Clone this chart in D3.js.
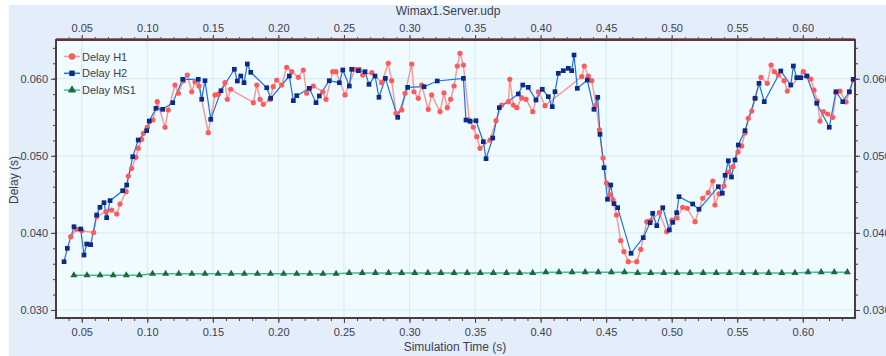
<!DOCTYPE html>
<html>
<head>
<meta charset="utf-8">
<script src="https://cdn.jsdelivr.net/npm/d3@7"></script>
<style>
  body { margin: 0; background: #fff; }
  svg { display: block; font-family: "Liberation Sans", Arial, sans-serif; }
</style>
</head>
<body>
<svg id="chart" width="886" height="356"></svg>
<script>
// series: [time (s), delay (s)]
var delayH1 = [
  [0.0416,0.03951],[0.0461,0.04047],[0.0500,0.04029],[0.0591,0.04005],[0.0614,0.04213],[0.0685,0.04275],
  [0.0728,0.04297],[0.0767,0.04245],[0.0792,0.04375],[0.0838,0.04534],[0.0855,0.04738],[0.0881,0.04838],
  [0.0914,0.04981],[0.0931,0.05097],[0.0957,0.05214],[0.0970,0.05292],[0.1000,0.05370],[0.1043,0.05464],
  [0.1076,0.05702],[0.1135,0.05370],[0.1160,0.05594],[0.1211,0.05918],[0.1237,0.05811],[0.1275,0.05974],
  [0.1305,0.06048],[0.1339,0.05831],[0.1364,0.05961],[0.1394,0.05905],[0.1465,0.05300],[0.1516,0.05789],
  [0.1542,0.05798],[0.1593,0.05948],[0.1610,0.05733],[0.1636,0.05863],[0.1809,0.05689],[0.1835,0.05918],
  [0.1860,0.05733],[0.1885,0.05668],[0.1936,0.05733],[0.1961,0.05896],[0.1987,0.05983],[0.2025,0.05918],
  [0.2063,0.06148],[0.2102,0.06091],[0.2152,0.06018],[0.2190,0.06113],[0.2216,0.05811],[0.2266,0.05905],
  [0.2338,0.05831],[0.2363,0.05733],[0.2414,0.06091],[0.2439,0.06091],[0.2508,0.05789],[0.2584,0.06122],
  [0.2617,0.06122],[0.2643,0.06048],[0.2712,0.06078],[0.2788,0.05948],[0.2838,0.06200],[0.2864,0.05974],
  [0.2897,0.05551],[0.2941,0.05594],[0.2966,0.05811],[0.3017,0.06191],[0.3034,0.05831],[0.3067,0.05746],
  [0.3093,0.05918],[0.3143,0.05603],[0.3169,0.05789],[0.3233,0.05572],[0.3263,0.05818],[0.3288,0.05624],
  [0.3314,0.05733],[0.3340,0.05905],[0.3365,0.06165],[0.3385,0.06329],[0.3411,0.06178],[0.3456,0.05464],
  [0.3487,0.05370],[0.3513,0.05248],[0.3538,0.05097],[0.3614,0.05205],[0.3660,0.05455],[0.3703,0.05659],
  [0.3754,0.05702],[0.3765,0.05992],[0.3792,0.05659],[0.3818,0.05624],[0.3856,0.05750],[0.3889,0.05733],
  [0.3940,0.05572],[0.3983,0.05831],[0.4034,0.05650],[0.4314,0.06026],[0.4333,0.06165],[0.4364,0.06035],
  [0.4390,0.05974],[0.4423,0.05659],[0.4449,0.05335],[0.4476,0.04971],[0.4503,0.04647],[0.4530,0.04492],
  [0.4552,0.04427],[0.4579,0.04232],[0.4611,0.03899],[0.4636,0.03756],[0.4669,0.03626],[0.4733,0.03626],
  [0.4764,0.03787],[0.4810,0.04145],[0.4840,0.04158],[0.4906,0.04262],[0.4962,0.04016],[0.5002,0.04167],
  [0.5041,0.04193],[0.5084,0.04332],[0.5119,0.04319],[0.5178,0.04145],[0.5237,0.04449],[0.5279,0.04521],
  [0.5313,0.04673],[0.5330,0.04362],[0.5361,0.04505],[0.5399,0.04608],[0.5433,0.04790],[0.5467,0.04859],
  [0.5506,0.05049],[0.5534,0.05127],[0.5559,0.05296],[0.5584,0.05486],[0.5611,0.05581],[0.5636,0.05746],
  [0.5681,0.06018],[0.5729,0.05940],[0.5758,0.06178],[0.5783,0.06091],[0.5813,0.06048],[0.5857,0.05974],
  [0.5882,0.05840],[0.6004,0.06091],[0.6035,0.06035],[0.6061,0.05996],[0.6086,0.05853],[0.6111,0.05711],
  [0.6131,0.05451],[0.6157,0.05572],[0.6190,0.05542],[0.6228,0.05499],[0.6253,0.05818],[0.6284,0.05840],
  [0.6330,0.05698],[0.6355,0.05827],[0.6385,0.05983]
];

var delayH2 = [
  [0.0365,0.03626],[0.0390,0.03800],[0.0441,0.04080],[0.0492,0.04051],[0.0517,0.03713],[0.0538,0.03856],
  [0.0568,0.03847],[0.0614,0.04232],[0.0639,0.04332],[0.0670,0.04392],[0.0690,0.04197],[0.0716,0.04418],
  [0.0812,0.04547],[0.0843,0.04621],[0.0889,0.04988],[0.0931,0.05205],[0.0995,0.05326],[0.1015,0.05451],
  [0.1066,0.05616],[0.1117,0.05603],[0.1194,0.05689],[0.1270,0.05992],[0.1389,0.05992],[0.1415,0.05733],
  [0.1440,0.05974],[0.1484,0.05473],[0.1562,0.05844],[0.1664,0.06122],[0.1687,0.05970],[0.1713,0.06035],
  [0.1738,0.05948],[0.1763,0.06191],[0.1789,0.06083],[0.1911,0.05883],[0.1941,0.05746],[0.2083,0.06035],
  [0.2114,0.05715],[0.2140,0.05780],[0.2236,0.05875],[0.2287,0.05689],[0.2312,0.05776],[0.2388,0.05974],
  [0.2465,0.05948],[0.2491,0.06113],[0.2541,0.05905],[0.2559,0.06122],[0.2610,0.06104],[0.2661,0.06091],
  [0.2691,0.05927],[0.2737,0.06035],[0.2767,0.05759],[0.2816,0.06005],[0.2910,0.05499],[0.2986,0.05888],
  [0.3111,0.05896],[0.3212,0.05970],[0.3411,0.06005],[0.3431,0.05464],[0.3462,0.05447],[0.3507,0.05455],
  [0.3563,0.05183],[0.3584,0.04962],[0.3635,0.05231],[0.3685,0.05624],[0.3830,0.05802],[0.3864,0.05918],
  [0.3906,0.05888],[0.3965,0.05724],[0.4013,0.05863],[0.4059,0.05767],[0.4089,0.05637],[0.4110,0.05831],
  [0.4135,0.06070],[0.4173,0.06104],[0.4211,0.06135],[0.4237,0.06104],[0.4255,0.06307],[0.4280,0.05875],
  [0.4356,0.05983],[0.4407,0.05603],[0.4436,0.05759],[0.4453,0.05279],[0.4484,0.04846],[0.4510,0.04436],
  [0.4535,0.04621],[0.4560,0.04379],[0.4588,0.04327],[0.4690,0.03735],[0.4783,0.03938],[0.4835,0.04132],
  [0.4855,0.04254],[0.4886,0.04093],[0.4932,0.04327],[0.4982,0.04038],[0.5008,0.04137],[0.5038,0.04262],
  [0.5056,0.04470],[0.5160,0.04375],[0.5208,0.04306],[0.5356,0.04599],[0.5386,0.04514],[0.5407,0.04747],
  [0.5432,0.04936],[0.5456,0.04725],[0.5483,0.04946],[0.5508,0.05140],[0.5559,0.05326],[0.5636,0.05746],
  [0.5666,0.05940],[0.5706,0.05702],[0.5832,0.06100],[0.5908,0.05918],[0.5928,0.06165],[0.5954,0.06013],
  [0.5984,0.06013],[0.6030,0.06035],[0.6106,0.05681],[0.6202,0.05370],[0.6253,0.05831],[0.6305,0.05702],
  [0.6355,0.05831],[0.6385,0.05992]
];

var msTimes = [0.044,0.054,0.064,0.074,0.084,0.094,0.104,0.114,0.124,0.134,0.144,0.154,0.164,0.174,0.184,
  0.194,0.204,0.214,0.224,0.234,0.244,0.254,0.264,0.274,0.284,0.294,0.304,0.314,0.324,0.334,0.344,0.354,
  0.364,0.374,0.384,0.394,0.404,0.414,0.424,0.434,0.444,0.454,0.464,0.474,0.484,0.494,0.504,0.514,0.524,
  0.534,0.544,0.554,0.564,0.574,0.584,0.594,0.604,0.614,0.624,0.634];
var msValues = [0.0345,0.0345,0.0345,0.0345,0.0345,0.0345,0.0347,0.0347,0.0347,0.0347,0.0347,0.0347,
  0.0347,0.0347,0.0347,0.0347,0.0347,0.0347,0.0347,0.0347,0.0347,0.0348,0.0348,0.0348,0.0348,0.0348,
  0.0348,0.0348,0.0348,0.0348,0.0348,0.0348,0.0348,0.0348,0.0348,0.0348,0.0349,0.0349,0.0349,0.0349,
  0.0349,0.0349,0.0349,0.0348,0.0348,0.0348,0.0348,0.0348,0.0348,0.0348,0.0348,0.0348,0.0348,0.0348,
  0.0348,0.0348,0.0349,0.0349,0.0349,0.0349];

var xTicks = [0.05,0.10,0.15,0.20,0.25,0.30,0.35,0.40,0.45,0.50,0.55,0.60];
var yTicks = [0.030,0.040,0.050,0.060];
var seriesNames = ["Delay H1","Delay H2","Delay MS1"];

var svg = d3.select("#chart");
var mLeft = 56, mRight = 855, mTop = 40, mBottom = 318;

svg.append("rect").attr("x", 9).attr("y", 5).attr("width", 877).attr("height", 351)
  .attr("fill", "#e3eefa");

var x = d3.scaleLinear().domain([0.03036, 0.63982]).range([mLeft, mRight]);
var y = d3.scaleLinear().domain([0.02896, 0.06502]).range([mBottom, mTop]);

svg.append("rect").attr("x", mLeft).attr("y", mTop).attr("width", mRight-mLeft).attr("height", mBottom-mTop)
  .attr("fill", "#effbff");

// grid
var grid = svg.append("g").attr("stroke", "#d4eaf7").attr("stroke-width", 1);
xTicks.forEach(function(t){
  grid.append("line").attr("x1", x(t)).attr("x2", x(t)).attr("y1", mTop).attr("y2", mBottom);
});
yTicks.forEach(function(t){
  grid.append("line").attr("x1", mLeft).attr("x2", mRight).attr("y1", y(t)).attr("y2", y(t));
});

// minor ticks
var xMinor = d3.range(0.04, 0.64, 0.01);
var yMinor = d3.range(0.030, 0.0651, 0.002);

function fmt(d){ return d3.format(".2f")(d); }
function fmtY(d){ return d3.format(".3f")(d); }

var axisColor = "#4e3c3c";
var gB = svg.append("g").attr("transform", "translate(0," + mBottom + ")")
  .call(d3.axisBottom(x).tickValues(xTicks).tickFormat(fmt).tickSize(5).tickPadding(5));
var gT = svg.append("g").attr("transform", "translate(0," + mTop + ")")
  .call(d3.axisTop(x).tickValues(xTicks).tickFormat(fmt).tickSize(5).tickPadding(3));
var gL = svg.append("g").attr("transform", "translate(" + mLeft + ",0)")
  .call(d3.axisLeft(y).tickValues(yTicks).tickFormat(fmtY).tickSize(5).tickPadding(3));
var gR = svg.append("g").attr("transform", "translate(" + mRight + ",0)")
  .call(d3.axisRight(y).tickValues(yTicks).tickFormat(fmtY).tickSize(5).tickPadding(3));

gB.call(function(g){ g.append("g").call(d3.axisBottom(x).tickValues(xMinor).tickFormat("").tickSize(3)); });
gT.call(function(g){ g.append("g").call(d3.axisTop(x).tickValues(xMinor).tickFormat("").tickSize(3)); });
gL.call(function(g){ g.append("g").call(d3.axisLeft(y).tickValues(yMinor).tickFormat("").tickSize(3)); });
gR.call(function(g){ g.append("g").call(d3.axisRight(y).tickValues(yMinor).tickFormat("").tickSize(3)); });

svg.selectAll(".domain").remove();
[gB, gT, gL, gR].forEach(function(g){
  g.selectAll("line").attr("stroke", axisColor);
  g.selectAll("text").attr("fill", "#3c4050").attr("font-size", 11)
    .attr("font-family", "\"Liberation Sans\", Arial, sans-serif");
});

svg.append("rect").attr("x", mLeft).attr("y", mTop).attr("width", mRight-mLeft).attr("height", mBottom-mTop)
  .attr("fill", "none").attr("stroke", axisColor).attr("stroke-width", 2);
svg.append("line").attr("x1", mLeft).attr("x2", mRight).attr("y1", mTop-1.5).attr("y2", mTop-1.5)
  .attr("stroke", "#b06060").attr("stroke-width", 1);

// lines
var plot = svg.append("g");
var line = d3.line().x(function(d){ return x(d[0]); }).y(function(d){ return y(d[1]); });
var msData = msTimes.map(function(t, i){ return [t, msValues[i]]; });

plot.append("path").datum(msData).attr("d", line).attr("fill", "none")
  .attr("stroke", "#4bb89a").attr("stroke-width", 1.5);
plot.append("path").datum(delayH1).attr("d", line).attr("fill", "none")
  .attr("stroke", "#f49c9c").attr("stroke-width", 1.5);
plot.append("path").datum(delayH2).attr("d", line).attr("fill", "none")
  .attr("stroke", "#1f6fe0").attr("stroke-width", 1.2);

var tri = d3.symbol().type(d3.symbolTriangle).size(22);
var sq = d3.symbol().type(d3.symbolSquare).size(22);

plot.selectAll(".ms").data(msData).enter().append("path")
  .attr("d", tri).attr("fill", "#1b6a3c")
  .attr("transform", function(d){ return "translate(" + x(d[0]) + "," + y(d[1]) + ")"; });
plot.selectAll(".h1").data(delayH1).enter().append("circle")
  .attr("cx", function(d){ return x(d[0]); }).attr("cy", function(d){ return y(d[1]); })
  .attr("r", 2.6).attr("fill", "#ff5a5a");
plot.selectAll(".h2").data(delayH2).enter().append("path")
  .attr("d", sq).attr("fill", "#0d2a86")
  .attr("transform", function(d){ return "translate(" + x(d[0]) + "," + y(d[1]) + ")"; });

// legend
var legColors = [["#f49c9c","#ff5a5a"],["#1f6fe0","#0d2a86"],["#4bb89a","#1b6a3c"]];
var leg = svg.append("g");
seriesNames.forEach(function(name, i){
  var ly = 56.5 + i*16.8;
  leg.append("line").attr("x1", 64).attr("x2", 80).attr("y1", ly).attr("y2", ly)
    .attr("stroke", legColors[i][0]).attr("stroke-width", 1.5);
  if(i === 0){
    leg.append("circle").attr("cx", 72).attr("cy", ly).attr("r", 3.2).attr("fill", legColors[i][1]);
  }else{
    leg.append("path").attr("d", d3.symbol().type(i === 1 ? d3.symbolSquare : d3.symbolTriangle).size(30))
      .attr("transform", "translate(72," + ly + ")").attr("fill", legColors[i][1]);
  }
  leg.append("text").attr("x", 82).attr("y", ly + 4).attr("font-size", 11).attr("fill", "#3c4050")
    .text(name);
});

// titles
svg.append("text").attr("x", 448).attr("y", 15).attr("text-anchor", "middle")
  .attr("font-size", 12).attr("fill", "#3c4050").text("Wimax1.Server.udp");
svg.append("text").attr("x", 455).attr("y", 351).attr("text-anchor", "middle")
  .attr("font-size", 12).attr("fill", "#3c4050").text("Simulation Time (s)");
svg.append("text").attr("transform", "translate(18,180) rotate(-90)").attr("text-anchor", "middle")
  .attr("font-size", 12).attr("fill", "#3c4050").text("Delay (s)");
</script>
</body>
</html>
